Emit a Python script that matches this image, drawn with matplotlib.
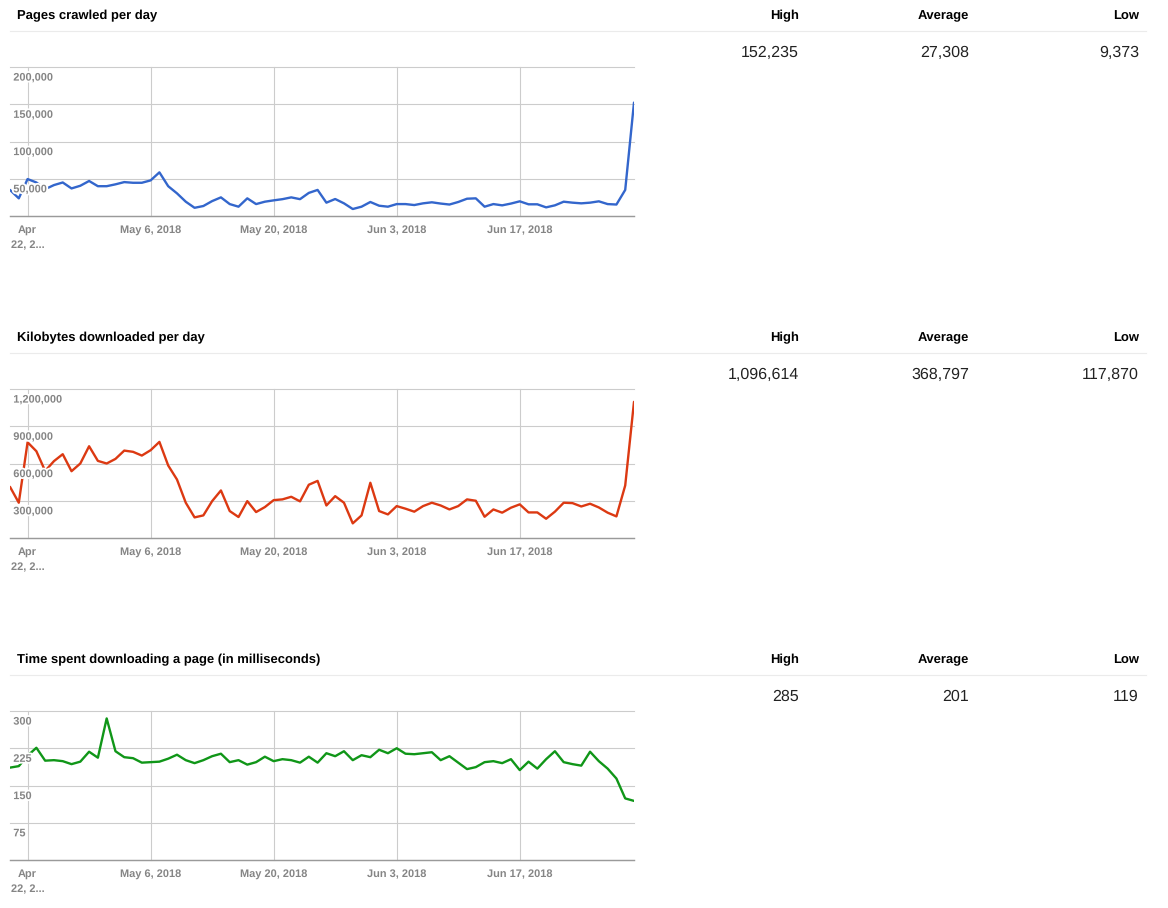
import numpy as np
import pandas as pd
import matplotlib
matplotlib.use('Agg')
import matplotlib.pyplot as plt
import matplotlib.patheffects as pe
from matplotlib.lines import Line2D

plt.rcParams['font.family'] = ['Liberation Sans', 'DejaVu Sans']
plt.rcParams['text.hinting'] = 'no_hinting'
plt.rcParams['text.hinting_factor'] = 1

# ---------------- data ----------------
dates = pd.date_range('2018-04-20', '2018-06-30', freq='D')  # 72 daily points

pages = [35000, 23700, 49600, 45000, 36000, 41500, 45000, 37000, 40600, 47000,
         40000, 40000, 42500, 45500, 44600, 44600, 47800, 58600, 40000, 30400,
         19200, 11000, 13400, 20000, 25000, 16000, 12500, 23700, 16000, 19200,
         21000, 22600, 25000, 22600, 31000, 35000, 17900, 22800, 17000, 9373,
         12500, 18800, 13800, 12500, 16000, 16000, 14700, 17000, 18400, 16700,
         15400, 18800, 23200, 23700, 12500, 16000, 14300, 16700, 19700, 15700,
         15700, 11600, 14300, 19200, 17900, 17000, 17900, 19700, 16000, 15400,
         35000, 152235]

kilobytes = [412000, 284000, 771000, 699000, 540000, 619000, 675000, 538000, 600000, 739000,
             621000, 600000, 637000, 704000, 694000, 664000, 707000, 774000, 584000, 471000,
             284000, 166000, 182000, 297000, 383000, 217000, 169000, 297000, 209000, 249000,
             305000, 311000, 332000, 295000, 429000, 460000, 262000, 337000, 284000, 117870,
             182000, 445000, 217000, 190000, 257000, 236000, 212000, 257000, 284000, 262000,
             230000, 257000, 311000, 300000, 171000, 230000, 204000, 244000, 271000, 206000,
             206000, 155000, 212000, 284000, 281000, 254000, 276000, 246000, 204000, 174000,
             423000, 1096614]

time_ms = [186, 189, 210, 226, 200, 201, 199, 193, 198, 218,
           206, 285, 219, 207, 205, 196, 197, 198, 204, 212,
           201, 195, 201, 209, 214, 197, 201, 192, 197, 208,
           199, 203, 201, 196, 208, 196, 215, 209, 219, 201,
           211, 207, 222, 215, 225, 214, 213, 215, 217, 201,
           209, 196, 183, 187, 197, 199, 195, 203, 181, 198,
           184, 203, 219, 197, 193, 190, 218, 199, 184, 164,
           124, 119]

titles = ['Pages crawled per day', 'Kilobytes downloaded per day',
          'Time spent downloading a page (in milliseconds)']
stat_headers = ['High', 'Average', 'Low']
pages_stats = ['152,235', '27,308', '9,373']
kb_stats = ['1,096,614', '368,797', '117,870']
time_stats = ['285', '201', '119']

x_tick_dates = ['2018-04-22', '2018-05-06', '2018-05-20', '2018-06-03', '2018-06-17']
x_tick_labels = ['Apr\n22, 2...', 'May 6, 2018', 'May 20, 2018', 'Jun 3, 2018', 'Jun 17, 2018']

pages_yticks = [0, 50000, 100000, 150000, 200000]
pages_ylabels = ['', '50,000', '100,000', '150,000', '200,000']
kb_yticks = [0, 300000, 600000, 900000, 1200000]
kb_ylabels = ['', '300,000', '600,000', '900,000', '1,200,000']
time_yticks = [0, 75, 150, 225, 300]
time_ylabels = ['', '75', '150', '225', '300']

colors = ['#3366cc', '#dc3912', '#109618']

# ---------------- figure ----------------
W, H = 1168, 908
PX = 0.72  # points per pixel at dpi 100
fig = plt.figure(figsize=(W / 100, H / 100), dpi=100)
fig.patch.set_facecolor('white')

stat_x = [799, 969, 1139]
LABEL_GRAY = '#858585'
tick_locs = pd.to_datetime(x_tick_dates)


def panel(top, title, stats, values, color, yticks, ylabels):
    fig.text(17 / W, 1 - (top + 19.5) / H, title, fontsize=9.4, fontweight='bold',
             color='#000000', ha='left', va='baseline')
    for hx, h, s in zip(stat_x, stat_headers, stats):
        fig.text(hx / W, 1 - (top + 19.5) / H, h, fontsize=9.4, fontweight='bold',
                 color='#000000', ha='right', va='baseline')
        fig.text(hx / W, 1 - (top + 57) / H, s, fontsize=11.3,
                 color='#222222', ha='right', va='baseline')
    fig.add_artist(Line2D([10 / W, 1146 / W], [1 - (top + 30.5) / H] * 2,
                          color='#ebebeb', lw=0.8))

    ax = fig.add_axes([10 / W, 1 - (top + 216) / H, 624 / W, 149 / H])
    ax.set_facecolor('white')
    ax.plot(dates, values, color=color, lw=1.7, solid_joinstyle='round',
            solid_capstyle='round', zorder=3)
    ax.set_xlim(dates[0], dates[-1])
    ax.set_ylim(yticks[0], yticks[-1])
    ax.set_yticks(yticks)
    ax.set_yticklabels([])
    ax.set_xticks(tick_locs)
    ax.set_xticklabels([])
    ax.tick_params(axis='both', length=0, pad=0)
    ax.grid(True, color='#cccccc', lw=0.8, zorder=1)
    for gl in ax.get_ygridlines() + ax.get_xgridlines():
        gl.set_clip_on(False)
    for s in ['top', 'left', 'right']:
        ax.spines[s].set_visible(False)
    ax.spines['bottom'].set_color('#9a9a9a')
    ax.spines['bottom'].set_linewidth(1.0)
    ax.spines['bottom'].set_zorder(4)

    # x labels (baseline aligned, 17 px below the axis; continuation lines 15 px lower)
    for loc, lab in zip(tick_locs, x_tick_labels):
        for k, line in enumerate(lab.split('\n')):
            ax.annotate(line, xy=(loc, 0), xycoords=('data', 'axes fraction'),
                        xytext=(0, -(17 + 15 * k) * PX), textcoords='offset points',
                        ha='center', va='baseline', fontsize=7.9, fontweight='bold',
                        color=LABEL_GRAY, annotation_clip=False)

    # y labels inside the plot, under their gridline
    for v, lab in zip(yticks[1:], ylabels[1:]):
        ax.annotate(lab, xy=(0, v), xycoords=('axes fraction', 'data'),
                    xytext=(3.3 * PX, -13.6 * PX), textcoords='offset points',
                    ha='left', va='baseline', fontsize=7.9, fontweight='bold',
                    color=LABEL_GRAY, zorder=5,
                    path_effects=[pe.withStroke(linewidth=2.6, foreground='white')])
    return ax


panel(0, titles[0], pages_stats, pages, colors[0], pages_yticks, pages_ylabels)
panel(322, titles[1], kb_stats, kilobytes, colors[1], kb_yticks, kb_ylabels)
panel(644, titles[2], time_stats, time_ms, colors[2], time_yticks, time_ylabels)

fig.savefig('out.png', dpi=100, facecolor='white')
